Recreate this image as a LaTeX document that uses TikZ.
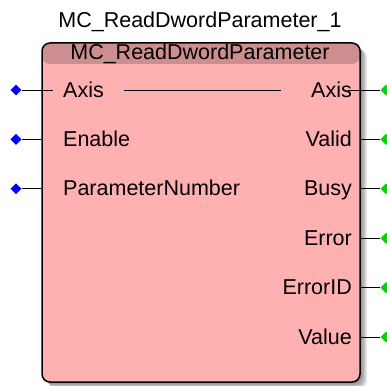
\documentclass[tikz,border=0pt]{standalone}
\usepackage{fontspec}
\setmainfont{Liberation Sans}
\usetikzlibrary{shapes.geometric}
\definecolor{fbbody}{RGB}{255,176,176}
\definecolor{fbhead}{RGB}{204,142,142}
\definecolor{pinin}{RGB}{0,0,255}
\definecolor{pinout}{RGB}{0,215,0}

\begin{document}
\begin{tikzpicture}[x=1pt, y=-1pt, line join=round,
    lbl/.style={inner sep=0pt, font=\fontsize{21.5}{22}\selectfont},
    inpin/.style={diamond, fill=pinin, inner sep=0pt, minimum width=11pt, minimum height=11pt},
    outpin/.style={diamond, fill=pinout, inner sep=0pt, minimum width=11pt, minimum height=11pt}]
\useasboundingbox (0,0) rectangle (387,385);

% Schatten
\foreach \s in {1,...,7}
  \fill[black, opacity=.08, rounded corners=8pt] (42+\s,43+\s) rectangle (360+\s,382+\s);

% Baustein
\node[draw, fill=fbbody, line width=1.5pt, rounded corners=8pt, inner sep=0pt,
      minimum width=318pt, minimum height=339pt,
      path picture={\fill[fbhead] (path picture bounding box.north west)
        rectangle ([yshift=-21pt]path picture bounding box.north east);}]
  (fb) at (201,212.5) {};

% Titel
\node[lbl, anchor=base] (inst) at (200,28) {MC\_ReadDwordParameter\_1};
\node[lbl, anchor=base] (fbname) at (200,60) {MC\_ReadDwordParameter};

% Eingaenge
\node[lbl, anchor=base west] (inaxis) at (63,97) {Axis};
\node[lbl, anchor=base west] (inenable) at (63,146.4) {Enable};
\node[lbl, anchor=base west] (inparam) at (63,195.8) {ParameterNumber};

\node[inpin] (pinaxis) at (16,90) {};
\node[inpin] (pinenable) at (16,139.4) {};
\node[inpin] (pinparam) at (16,188.8) {};

\draw[line width=1pt] (pinaxis) -- ([xshift=-10pt]inaxis.west |- pinaxis);
\draw[line width=1pt] (pinenable) -- (fb.west |- pinenable);
\draw[line width=1pt] (pinparam) -- (fb.west |- pinparam);

% Ausgaenge
\node[lbl, anchor=base east] (outaxis) at (352,97) {Axis};
\node[lbl, anchor=base east] (outvalid) at (352,146.4) {Valid};
\node[lbl, anchor=base east] (outbusy) at (352,195.8) {Busy};
\node[lbl, anchor=base east] (outerror) at (352,245.2) {Error};
\node[lbl, anchor=base east] (outerrid) at (352,294.6) {ErrorID};
\node[lbl, anchor=base east] (outvalue) at (352,344) {Value};

\foreach \n/\y in {oaxis/90, ovalid/139.4, obusy/188.8, oerror/238.2, oerrid/287.6, ovalue/337}
  \node[outpin] (pin\n) at (386,\y) {};

\draw[line width=1pt] ([xshift=-4pt]outaxis.east |- pinoaxis) -- (pinoaxis);
\foreach \n in {ovalid, obusy, oerror, oerrid, ovalue}
  \draw[line width=1pt] (fb.east |- pin\n) -- (pin\n);

% Durchgang Axis
\draw[line width=1pt] ([xshift=20pt]inaxis.east |- pinaxis) -- ([xshift=-30pt]outaxis.west |- pinoaxis);

\end{tikzpicture}
\end{document}
